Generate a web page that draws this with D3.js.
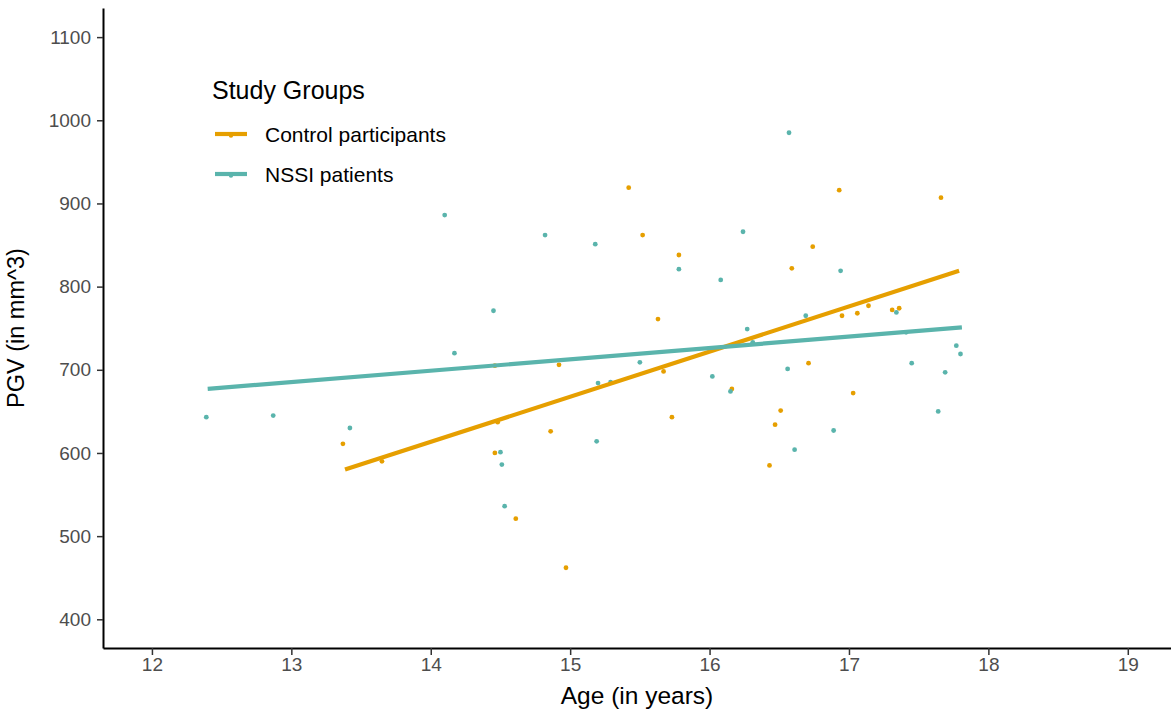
<!DOCTYPE html>
<html>
<head>
<meta charset="utf-8">
<script src="https://cdn.jsdelivr.net/npm/d3@7"></script>
<style>
  body { margin: 0; background: #fff; }
</style>
</head>
<body>
<div id="chart"></div>
<script>
// data
const controlAge = [13.37, 13.65, 15.42, 15.52, 15.78, 15.63, 16.74, 16.59, 16.93, 17.66, 16.95, 17.06, 17.14, 17.31, 17.36,
    16.71, 17.03, 14.92, 14.46, 15.67, 16.16, 15.73, 16.51, 16.47, 16.43, 14.86, 14.46, 14.48, 14.61, 14.97]
const controlPgv = [611, 590, 919, 862, 838, 761, 848, 822, 916, 907, 765, 768, 777, 772, 774,
    708, 672, 706, 705, 698, 677, 643, 651, 634, 585, 626, 600, 637, 521, 462]

const nssiAge = [12.39, 12.87, 13.42, 14.17, 14.10, 14.45, 14.82, 15.18, 15.78, 16.08, 16.24, 16.57, 16.27, 16.31, 16.69,
    16.94, 17.34, 17.41, 17.77, 17.80, 17.45, 17.69, 17.64, 16.89, 15.50, 15.20, 15.29, 16.02, 16.15, 16.56,
    16.61, 15.19, 14.50, 14.51, 14.53]
const nssiPgv = [643, 645, 630, 720, 886, 771, 862, 851, 821, 808, 866, 985, 749, 733, 765,
    819, 769, 745, 729, 719, 708, 697, 650, 627, 709, 684, 685, 692, 674, 701,
    604, 614, 601, 586, 536]

// linear fit end points (age, pgv)
const controlFit = [[13.385, 580], [17.79, 819]]
const nssiFit = [[12.40, 677], [17.81, 751]]

const groups = ["Control participants", "NSSI patients"]
const groupColors = ["#E69F00", "#5AB4AC"]
const xTicks = [12, 13, 14, 15, 16, 17, 18, 19]
const yTicks = [400, 500, 600, 700, 800, 900, 1000, 1100]

let margin = { top: 8, right: 0, bottom: 63, left: 103 }
let width = 1171 - margin.left - margin.right
let height = 711 - margin.top - margin.bottom

const font = "'Liberation Sans', Arial, Helvetica, sans-serif"

let svg = d3.select("#chart")
    .append("svg")
    .attr("width", 1171)
    .attr("height", 711)
    .append("g")
    .attr("transform", "translate(" + margin.left + "," + margin.top + ")")

let x = d3.scaleLinear()
    .domain([11.649, 19.31])
    .range([0, width])

let y = d3.scaleLinear()
    .domain([365.5, 1135])
    .range([height, 0])

const styleAxis = (g) => {
    g.selectAll(".domain")
        .attr("stroke", "#000")
        .attr("stroke-width", 2)
    g.selectAll(".tick line")
        .attr("stroke", "#333")
        .attr("stroke-width", 1.5)
    g.selectAll(".tick text")
        .attr("font-size", 19)
        .attr("font-family", font)
        .style("fill", "#4d4d4d")
}

// X axis
let xAxis = d3.axisBottom(x).tickValues(xTicks).tickSize(7).tickPadding(3).tickSizeOuter(0)
svg.append("g")
    .attr("transform", "translate(0," + height + ")")
    .call(xAxis)
    .call(styleAxis)

// Y axis
let yAxis = d3.axisLeft(y).tickValues(yTicks).tickFormat(d3.format("d")).tickSize(6).tickPadding(6).tickSizeOuter(0)
svg.append("g")
    .call(yAxis)
    .call(styleAxis)

svg.append("text")
    .attr("text-anchor", "middle")
    .attr("x", width / 2)
    .attr("y", height + 56)
    .text("Age (in years)")
    .attr("font-size", 24.5)
    .attr("font-family", font)
    .style("fill", "#000")

svg.append("text")
    .attr("text-anchor", "middle")
    .attr("transform", "translate(" + (-79) + "," + (height / 2) + ") rotate(-90)")
    .text("PGV (in mm^3)")
    .attr("font-size", 23.5)
    .attr("font-family", font)
    .style("fill", "#000")

// points
const drawPoints = (ages, values, color) => {
    svg.append("g")
        .selectAll("circle")
        .data(ages.map((a, i) => ({ age: a, pgv: values[i] })))
        .enter()
        .append("circle")
        .attr("cx", d => x(d.age))
        .attr("cy", d => y(d.pgv))
        .attr("r", 2.4)
        .style("fill", color)
}
drawPoints(controlAge, controlPgv, groupColors[0])
drawPoints(nssiAge, nssiPgv, groupColors[1])

// fit lines
const line = d3.line().x(d => x(d[0])).y(d => y(d[1]))
svg.append("path")
    .attr("d", line(controlFit))
    .attr("fill", "none")
    .attr("stroke", groupColors[0])
    .attr("stroke-width", 4.2)
svg.append("path")
    .attr("d", line(nssiFit))
    .attr("fill", "none")
    .attr("stroke", groupColors[1])
    .attr("stroke-width", 4.2)

// legend
const legend = svg.append("g")
    .attr("transform", "translate(" + (212 - margin.left) + "," + (99 - margin.top) + ")")

legend.append("text")
    .attr("x", 0)
    .attr("y", 0)
    .text("Study Groups")
    .attr("font-size", 25)
    .attr("font-family", font)
    .style("fill", "#000")

groups.forEach((g, i) => {
    const row = legend.append("g").attr("transform", "translate(0," + (35 + i * 40) + ")")
    row.append("line")
        .attr("x1", 3).attr("x2", 35)
        .attr("y1", 0).attr("y2", 0)
        .attr("stroke", groupColors[i])
        .attr("stroke-width", 4.2)
    row.append("circle")
        .attr("cx", 19).attr("cy", 1.5)
        .attr("r", 2.2)
        .style("fill", groupColors[i])
    row.append("text")
        .attr("x", 53)
        .attr("y", 8)
        .text(g)
        .attr("font-size", 21)
        .attr("font-family", font)
        .style("fill", "#000")
})
</script>
</body>
</html>
